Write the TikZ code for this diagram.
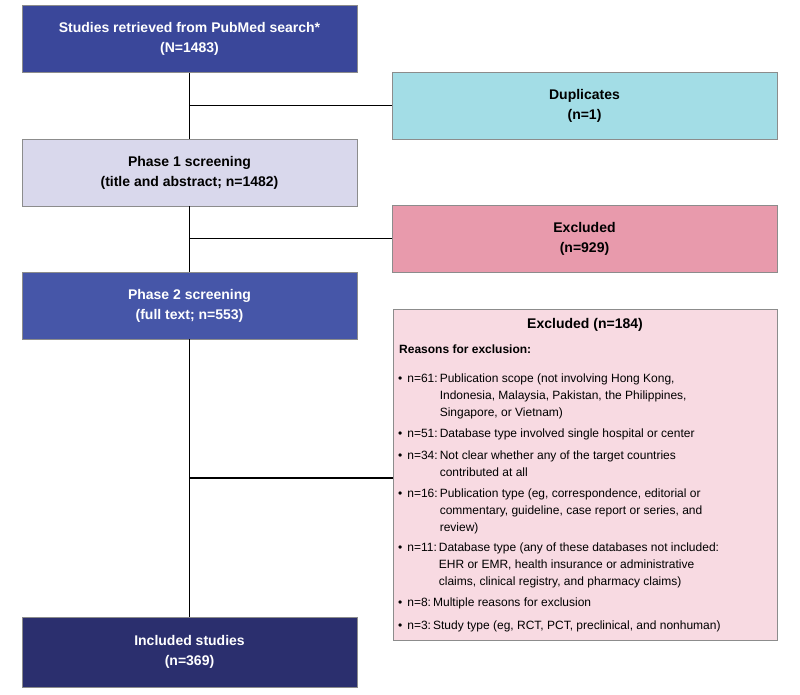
\documentclass[tikz,border=0pt]{standalone}
\usepackage{fontspec}
\setmainfont{Liberation Sans}
\definecolor{cA}{HTML}{3A479A}
\definecolor{cB}{HTML}{4656A8}
\definecolor{cC}{HTML}{2B2F6E}
\definecolor{cDup}{HTML}{A3DDE6}
\definecolor{cP1}{HTML}{D9D8EC}
\definecolor{cEx}{HTML}{E89AAC}
\definecolor{cBig}{HTML}{F8DAE2}
\begin{document}
\begin{tikzpicture}[x=1pt,y=-1pt,
  box/.style={draw=black!45,line width=0.8pt,minimum width=335pt,minimum height=67pt,align=center,
    font=\fontsize{14}{20}\selectfont\bfseries,inner sep=0pt},
  rbox/.style={box,minimum width=385pt},
  ln/.style={line width=1.5pt,black},
  it/.style={anchor=north west,inner sep=0pt,align=left,font=\fontsize{12}{16}\selectfont}]
\useasboundingbox (0,0) rectangle (800,695);
\node[box,fill=cA,text=white] (b1) at (189.5,39) {Studies retrieved from PubMed search*\\(N=1483)};
\node[rbox,fill=cDup] (dup) at (584.5,105.5) {Duplicates\\(n=1)};
\node[box,fill=cP1] (p1) at (189.5,172.5) {Phase 1 screening\\(title and abstract; n=1482)};
\node[rbox,fill=cEx] (ex1) at (584.5,238.5) {Excluded\\(n=929)};
\node[box,fill=cB,text=white] (p2) at (189.5,305.5) {Phase 2 screening\\(full text; n=553)};
\node[box,fill=cC,text=white,minimum height=70pt] (inc) at (189.5,652) {Included studies\\(n=369)};
\node[draw=black!45,line width=0.8pt,fill=cBig,minimum width=384pt,minimum height=331pt,inner sep=0pt] (ex2) at (585,474.5) {};
\draw[ln] (b1.south) -- (p1.north);
\draw[ln] (p1.south) -- (p2.north);
\draw[ln] (p2.south) -- (inc.north);
\draw[ln] (b1.south |- dup.west) -- (dup.west);
\draw[ln] (p1.south |- ex1.west) -- (ex1.west);
\coordinate (j3) at (190,478);
\draw[ln] (j3) -- (j3 -| ex2.west);
\node[anchor=north,inner sep=0pt,font=\fontsize{14}{16}\selectfont\bfseries] (h) at (585,318) {Excluded (n=184)};
\node[it,font=\fontsize{12}{16}\selectfont\bfseries] (r0) at (399,345) {Reasons for exclusion:};
\newcommand{\bl}[2]{\textbullet\hspace{5pt}\begin{tabular}[t]{@{}l@{\,}l@{}}#1 & #2\end{tabular}}
\def\arraystretch{1.05}
\node[it] (r1) at (398,371) {\bl{n=61:}{Publication scope (not involving Hong Kong,\\ & Indonesia, Malaysia, Pakistan, the Philippines,\\ & Singapore, or Vietnam)}};
\node[it] (r2) at (398,426) {\bl{n=51:}{Database type involved single hospital or center}};
\node[it] (r3) at (398,448) {\bl{n=34:}{Not clear whether any of the target countries\\ & contributed at all}};
\node[it] (r4) at (398,486) {\bl{n=16:}{Publication type (eg, correspondence, editorial or\\ & commentary, guideline, case report or series, and\\ & review)}};
\node[it] (r5) at (398,540) {\bl{n=11:}{Database type (any of these databases not included:\\ & EHR or EMR, health insurance or administrative\\ & claims, clinical registry, and pharmacy claims)}};
\node[it] (r6) at (398,595) {\bl{n=8:}{Multiple reasons for exclusion}};
\node[it] (r7) at (398,618) {\bl{n=3:}{Study type (eg, RCT, PCT, preclinical, and nonhuman)}};
\end{tikzpicture}
\end{document}
